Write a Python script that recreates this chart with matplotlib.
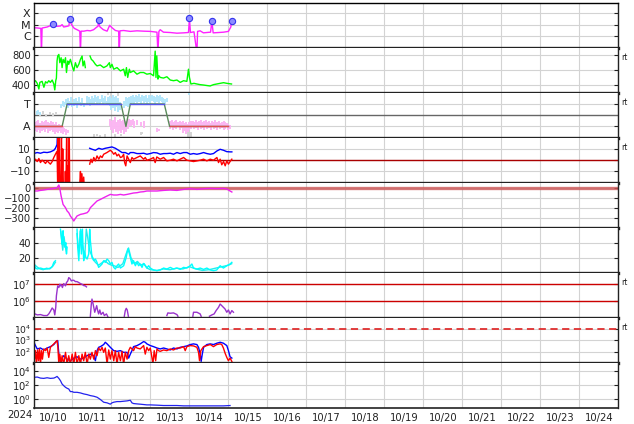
#!/usr/bin/env python3
"""Space weather stack plot, 2024-10-10 .. 2024-10-25."""

import numpy as np
import matplotlib

matplotlib.use("Agg")
import matplotlib.pyplot as plt
from matplotlib.ticker import FixedLocator, NullLocator

nan = np.nan

# all times in hours since 2024-10-10 00:00 UT
day_labels = ["10/%d" % d for d in range(10, 25)]

# GOES X-ray flux (log10)
xray_h = [0, 2, 4.5, 4.9, 5.3, 6.4, 8.4, 10.4, 11.9, 12.5, 14.5, 16.6, 17.6, 18.6,
          20.7, 21.8, 22.3, 23.1, 24.1, 25.1, 26.8, 28.5, 28.9, 29.3, 31, 33, 35,
          37, 39, 39.7, 40.1, 40.6, 41, 43, 45.3, 46.9, 48.3, 50.4, 52.4, 52.8, 53.2,
          55.5, 59.6, 63.7, 67.8, 71.9, 76, 76.6, 77.2, 78, 80, 84.2, 88.3, 92.4,
          95.4, 96.0, 96.6, 98.8, 100.6, 101, 102.6, 104.6, 106.7, 109.0, 109.8,
          110.6, 114, 117, 120, 121.5, 121.9]
xray_log = [-5.27, -5.29, -5.33, -7.5, -5.30, -5.27, -5.21, -5.09, -4.91, -5.05,
            -5.15, -5.12, -5.0, -5.21, -5.15, -5.1, -4.52, -4.9, -5.15, -5.33, -5.45,
            -5.58, -7.5, -5.58, -5.58, -5.52, -5.55, -5.45, -5.21, -5.15, -4.61, -5.1,
            -5.21, -5.45, -5.58, -5.06, -5.27, -5.52, -5.58, -7.5, -5.55, -5.52, -5.6,
            -5.55, -5.58, -5.6, -5.67, -7.5, -5.6, -5.45, -5.67, -5.7, -5.76, -5.73,
            -5.7, -4.45, -5.7, -5.64, -7.5, -5.6, -5.55, -5.73, -5.7, -5.67, -4.70,
            -5.73, -5.7, -5.67, -5.6, -5.2, -4.70]
flare_h = [11.9, 22.3, 40.1, 96.0, 109.8, 121.9]
flare_log = [-4.91, -4.52, -4.61, -4.45, -4.70, -4.70]

# solar wind speed (km/s)
speed_h = [0, 1.2, 2.3, 3.3, 3.9, 5.3, 6.4, 7.4, 8.4, 9.4, 10.4, 11.5, 12.5, 13.1,
           13.7, 14.1, 14.5, 14.9, 15.6, 16.2, 17, 17.6, 18.2, 19.0, 19.7, 20.3, 21.1,
           21.7, 22.7, 23.8, 24.8, 25.8, 26.8, 27.9, 28.9, 29.9, 30.5, 31.3, 31.9, 32.5,
           34.8, 35.6, 36.7, 38.1, 39.1, 41.1, 43.2, 45.2, 46.7, 47.3, 48.3, 49.4, 51.4,
           53.5, 55.5, 56.5, 57.2, 58.0, 59.0, 59.6, 61.6, 63.7, 65.7, 67.8, 69.8, 71.9,
           73.9, 74.9, 75.4, 75.9, 76.6, 77.2, 78.0, 80.0, 82.1, 84.2, 86.2, 88.3, 90.3,
           92.4, 94.4, 95.4, 96.0, 96.9, 98.8, 100.6, 102.6, 104.6, 106.7, 108.7, 110.8,
           112.8, 114.9, 117.0, 119.0, 121.9]
speed = [431, 454, 418, 341, 431, 445, 364, 440, 422, 454, 431, 463, 409, 328, 454,
         490, 723, 791, 813, 700, 768, 633, 746, 700, 768, 566, 723, 678, 746, 656,
         588, 700, 633, 678, 746, 791, 656, 723, 633, nan, 791, 746, 723, 678, 656,
         669, 633, 656, 700, 633, 678, 611, 633, 588, 611, 521, 633, 499, 611, 566,
         588, 543, 566, 566, 543, 552, 521, 858, 499, 794, 476, 521, 499, 490, 508,
         463, 454, 463, 431, 454, 445, 611, 499, 409, 418, 409, 400, 395, 388, 382,
         400, 409, 418, 427, 418, 409]

# IMF sector (T = +1, A = -1)
sector_h = [0, 17.6, 20.7, 53.9, 56.9, 59.6, 80.5, 83.8, 120]
sector = [-1, -1, 1, 1, -1, 1, 1, -1, -1]
toward_h = [2, 3, 4, 17, 18, 19, 20, 21, 22, 23, 24, 25, 26, 27, 28, 29, 30, 31, 33,
            34, 35, 36, 37, 38, 39, 40, 41, 42, 43, 44, 45, 46, 47, 48, 49, 50, 51, 52,
            53, 56, 57, 58, 59, 60, 61, 62, 63, 64, 65, 66, 67, 68, 69, 70, 71, 72, 73,
            74, 75, 76, 77, 78, 79, 80, 81, 82, 96]
toward_lo = [0.0, 0.1, 0.0, 0.6, 0.8, 0.7, 0.9, 0.6, 0.8, 0.9, 0.7, 0.8, 1.0, 0.6,
             0.9, 0.8, 1.0, 0.7, 0.9, 1.1, 0.8, 1.0, 0.9, 1.2, 1.0, 1.1, 0.9, 1.2, 1.0,
             1.1, 0.9, 1.0, 0.8, 0.5, 0.6, 0.4, 0.7, 0.3, 0.5, 0.6, 0.8, 0.7, 0.9, 1.0,
             1.1, 1.0, 1.2, 1.1, 1.2, 1.0, 1.3, 1.1, 1.2, 1.0, 1.2, 1.1, 1.3, 1.2, 1.0,
             1.2, 1.1, 1.3, 1.2, 1.1, 1.0, 1.2, 1.8]
toward_hi = [0.4, 0.5, 0.3, 1.0, 1.3, 1.2, 1.4, 1.5, 1.3, 1.6, 1.2, 1.4, 1.5, 1.3,
             1.6, 1.2, 1.5, 1.1, 1.7, 1.6, 1.4, 1.7, 1.5, 1.8, 1.6, 1.7, 1.4, 1.8, 1.5,
             1.7, 1.3, 1.6, 1.7, 1.5, 1.8, 1.6, 1.7, 1.5, 1.2, 1.3, 1.6, 1.5, 1.6, 1.7,
             1.8, 1.6, 1.8, 1.7, 1.9, 1.6, 1.8, 1.7, 1.8, 1.5, 1.8, 1.7, 1.8, 1.7, 1.6,
             1.8, 1.7, 1.8, 1.6, 1.5, 1.4, 1.5, 1.95]
away_h = [0, 1, 2, 3, 4, 5, 6, 7, 8, 9, 10, 11, 12, 13, 14, 15, 16, 17, 18, 19, 20,
          21, 47, 48, 49, 50, 51, 52, 53, 54, 55, 56, 57, 58, 59, 60, 61, 62, 64, 66,
          68, 76, 77, 84, 85, 86, 87, 88, 89, 90, 91, 92, 93, 94, 95, 96, 97, 98, 99,
          100, 101, 102, 103, 104, 105, 106, 107, 108, 109, 110, 111, 112, 113, 114,
          115, 116, 117, 118, 119, 120, 121]
away_lo = [-1.2, -1.4, -1.5, -1.3, -1.6, -1.4, -1.3, -1.5, -1.2, -1.6, -1.4, -1.3,
           -1.5, -1.7, -1.5, -1.6, -1.4, -1.6, -1.7, -1.5, -1.8, -1.6, -1.0, -1.3,
           -1.6, -1.2, -1.5, -1.7, -1.4, -1.6, -1.3, -1.7, -1.5, -1.2, -1.0, -1.0,
           -0.9, -1.1, -0.9, -1.0, -1.1, -1.5, -1.4, -1.2, -1.0, -1.3, -1.1, -1.2,
           -1.0, -1.3, -1.1, -1.6, -1.4, -1.7, -1.5, -1.3, -1.2, -1.0, -1.2, -1.1,
           -1.3, -1.0, -1.2, -1.1, -1.3, -1.0, -1.2, -1.1, -1.3, -1.0, -1.2, -1.1,
           -1.3, -1.0, -1.2, -1.1, -1.3, -1.2, -1.0, -1.3, -1.2]
away_hi = [-0.5, -0.6, -0.5, -0.4, -0.7, -0.5, -0.6, -0.5, -0.4, -0.6, -0.7, -0.5,
           -0.6, -0.8, -0.6, -0.9, -0.8, -0.9, -1.0, -1.1, -1.2, -1.3, -0.3, -0.5,
           -0.4, -0.2, -0.6, -0.4, -0.3, -0.5, -0.4, -0.6, -0.5, -0.4, -0.3, -0.4,
           -0.3, -0.5, -0.4, -0.6, -0.5, -1.1, -1.2, -0.5, -0.4, -0.6, -0.5, -0.4,
           -0.6, -0.5, -0.6, -0.5, -0.7, -0.6, -0.8, -0.6, -0.5, -0.5, -0.6, -0.4,
           -0.6, -0.5, -0.4, -0.6, -0.5, -0.4, -0.6, -0.5, -0.7, -0.5, -0.6, -0.4,
           -0.6, -0.5, -0.7, -0.6, -0.5, -0.6, -0.7, -0.8, -0.9]
other_h = [0, 2, 4, 6, 8, 10, 12, 14, 37, 39, 41, 44, 46, 48, 50, 52, 54, 66, 67,
           95, 96, 97]
other_lo = [-0.2, 0.0, -0.1, 0.1, -0.2, 0.0, -0.1, 0.1, -1.9, -1.85, -1.9, -1.9,
            1.8, 1.7, -1.9, 1.75, -1.85, -1.8, -1.7, -1.9, -1.8, -1.9]
other_hi = [0.3, 0.4, 0.2, 0.4, 0.1, 0.3, 0.2, 0.3, -1.7, -1.7, -1.75, -1.7, 2.0,
            2.0, -1.7, 2.0, -1.65, -1.5, -1.5, -1.3, -1.4, -1.5]

# IMF Bt and Bz (nT)
bt_h = [0, 2.3, 4.3, 6.3, 8.4, 10.4, 12.5, 13.5, 14.5, 14.9, 15.6, 16.2, 17, 17.6,
        18.5, 19.5, 20.5, 21.5, 22.3, 22.6, 34.6, 36.1, 38.1, 40.2, 42.2, 44.2, 46.3,
        48.3, 50.4, 52.4, 54.5, 56.5, 58.6, 59.6, 61.6, 63.7, 65.7, 67.8, 69.8, 71.9,
        73.9, 76.0, 78.0, 80.1, 82.1, 84.2, 86.2, 88.3, 90.3, 92.4, 94.4, 96.5, 98.5,
        100.6, 102.6, 104.7, 106.7, 108.8, 110.8, 112.9, 114.9, 117.0, 119.0, 121.0,
        122.1]
bt = [5.9, 6.8, 6.2, 7.1, 6.8, 7.4, 8.8, 10.6, 14, 30, 26, 30, 25, 20, 30, 28, 30,
      26, 30, nan, 10.6, 9.7, 8.8, 10.6, 9.7, 10.6, 11.2, 11.8, 10.6, 8.8, 6.8, 6.8,
      5.3, 6.8, 6.8, 5.9, 5.9, 6.2, 5.3, 5.9, 6.8, 6.5, 5.3, 5.9, 5.9, 6.2, 5.3, 6.8,
      5.9, 6.8, 6.8, 5.3, 5.9, 5.3, 5.9, 6.8, 5.9, 5.3, 5.9, 8.2, 9.7, 8.8, 7.6, 7.4,
      7.4]
bz_h = [0, 1.2, 2.3, 3.3, 4.3, 5.3, 6.3, 7.4, 8.4, 9.4, 10.4, 11.5, 12.5, 13.5, 14.5,
        14.9, 15.2, 15.5, 15.8, 16.1, 16.5, 16.8, 17.2, 17.6, 18.0, 18.4, 18.8, 19.2,
        19.6, 20.0, 20.4, 20.8, 21.2, 21.6, 22.0, 22.3, 22.5, 28.5, 28.9, 29.3, 29.8,
        30.3, 30.9, 31.3, 31.6, 34.6, 35.4, 36.1, 37.1, 38.1, 39.1, 40.2, 41.2, 42.2,
        43.2, 45.2, 47.3, 48.3, 49.4, 50.4, 51.4, 52.4, 53.5, 54.5, 55.5, 56.1, 56.8,
        57.6, 58.6, 59.6, 60.6, 61.6, 63.7, 65.7, 67.8, 68.8, 69.8, 71.9, 73.9, 74.9,
        75.9, 78.0, 80.1, 82.1, 84.2, 86.2, 88.3, 90.3, 92.4, 94.4, 96.5, 98.5, 100.6,
        102.6, 104.7, 106.7, 108.8, 110.8, 112.9, 113.9, 114.9, 115.9, 117.0, 118.0,
        119.0, 120.0, 121.0, 122.1]
bz = [-0.6, 0.9, -1.2, 1.5, -2.1, 0, -1.2, -2.9, -0.6, -2.1, -3.5, -1.2, 2.4, 5.3, 8,
      -25, 25, -25, 20, -25, -15, -25, 25, -25, 10, -25, -20, -25, -10, -25, 25, -25,
      -5, -25, 25, -25, nan, -20, -10, -25, -12, -25, -15, -25, nan, -3.5, 0.9, -2.1,
      2.4, -0.6, 3.8, 0.9, 3.8, 2.4, 5.3, 6.8, 8.8, 7.6, 5.3, 6.8, 3.8, 5.3, 2.4, 2.9,
      5.3, -2.1, -5, 3.8, 0.9, -2.1, 2.4, 0.9, 2.4, 3.8, 0.9, 2.4, 0, 0.9, 2.4, -2.1,
      2.9, 0.9, 2.4, -0.6, 0, 0.9, -0.6, 0.9, 2.4, 0, -0.6, -1.2, -0.6, 0, 0.9, -0.6,
      0.9, 0, 2.4, -2.1, 0.9, -4.1, -1.2, -5, -0.6, -3.5, -1.2, 0.9]

# Dst index (nT)
dst_h = [0, 2.3, 4.3, 6.4, 8.4, 10.4, 12.5, 14.5, 15.6, 16.2, 17.0, 18.2, 19.7, 20.7,
         21.7, 22.7, 23.8, 24.8, 25.8, 26.8, 28.9, 30.9, 33.0, 34.0, 35.0, 37.0, 39.1,
         41.2, 43.2, 45.3, 47.3, 49.4, 51.4, 53.5, 55.5, 57.6, 59.6, 61.6, 63.7, 65.7,
         67.8, 69.8, 71.9, 76.0, 80.1, 84.2, 88.3, 92.4, 96.5, 100.6, 104.7, 108.8,
         112.9, 117.0, 119.0, 121.0, 122.1]
dst = [-33, -33, -27, -23, -17, -13, -7, 0, 27, -7, -83, -167, -200, -233, -250,
       -283, -307, -333, -307, -283, -267, -260, -250, -233, -200, -167, -133, -117,
       -100, -83, -67, -73, -73, -67, -73, -67, -60, -53, -50, -43, -40, -33, -33,
       -33, -27, -23, -27, -17, -10, -17, -10, -7, -10, -7, -13, -33, -43]

# solar wind density (/cc), two sources
dens_h = [0, 1.2, 2.3, 4.3, 6.3, 8.4, 10.4, 11.5, 12.5, 13.5, 14.0, 16.6, 17.2, 17.6,
          18.2, 18.6, 19.3, 19.9, 20.3, 20.7, 21.0, 26.8, 27.2, 27.9, 28.5, 28.9, 29.5,
          30.1, 30.5, 30.9, 31.5, 32.2, 33, 34, 34.6, 35, 36, 37.1, 38.1, 39.1, 40.1,
          41.2, 42.2, 43.2, 44.2, 45.3, 46.3, 47.3, 48.3, 49.4, 50.4, 51.4, 52.4, 53.5,
          55.5, 57.1, 58, 58.8, 59.6, 60.6, 61.6, 62.7, 63.7, 64.7, 65.7, 66.8, 67.8,
          68.8, 69.8, 70.9, 71.9, 73.9, 76, 78, 80.1, 82.1, 84.2, 86.2, 88.3, 90.3,
          92.4, 94.4, 96.5, 97.5, 98.5, 100.6, 102.6, 104.7, 106.7, 108.8, 110.8,
          112.8, 114.9, 116.9, 119, 121, 122.1]
dens = [13.8, 6.2, 4.9, 6.2, 4.9, 4.9, 6.2, 8, 13.8, 16, nan, 58, 47, 38, 56, 43, 34,
        40, 25, 34, nan, 58, 34, 16, 43, 56, 25, 58, 34, 16, 27, 20.4, 18.2, 25, 58,
        43, 20.4, 16, 18.2, 13.8, 7.1, 9.3, 11.6, 16, 13.8, 18.2, 16, 11.6, 13.8, 7.1,
        4.9, 9.3, 11.6, 6.2, 9.3, 20.4, 31.6, 27, 20.4, 11.6, 16, 9.3, 13.8, 9.3, 11.6,
        7.1, 12.4, 9.3, 6.2, 9.3, 6.2, 3.6, 2.7, 3.6, 6.2, 4.9, 7.1, 4.9, 6.2, 4.4, 7.1,
        6.2, 9.3, 11.6, 6.2, 4.9, 6.2, 4.4, 6.2, 3.6, 2.7, 3.6, 9.3, 6.2, 9.3, 11.6,
        13.8]
dens2_h = [0, 2, 4, 6, 8, 10, 12, 13.5, 14, 16.8, 17.4, 18.0, 18.8, 19.5, 20.2, 20.6,
           26.8, 27.4, 28.2, 29.0, 29.8, 30.5, 31.5, 32.5, 33.5, 34.5, 36, 38, 40, 42,
           44, 46, 48, 50, 52, 55, 57, 58.5, 60, 62, 64, 66, 68, 70, 72, 76, 80, 84,
           88, 92, 96, 100, 104, 108, 112, 116, 120, 122]
dens2 = [12, 8, 5, 4, 6, 5, 9, 14, nan, 55, 42, 30, 48, 36, 28, nan, 52, 38, 30, 58,
         40, 33, 20, 58, 45, 30, 22, 14, 10, 13, 16, 12, 10, 9, 7, 12, 25, 33, 20, 12,
         15, 10, 12, 6, 4, 3, 5, 4, 6, 5, 8, 5, 3, 4, 6, 8, 10, 12]

# >10 MeV proton flux (log10)
prot_h = [0, 2.3, 4.3, 6.3, 8.4, 9.4, 10.4, 11.5, 12.5, 13.1, 13.7, 14.1, 14.5, 14.9,
          15.6, 16.2, 16.6, 17.2, 17.8, 18.6, 19.7, 20.3, 21.1, 21.7, 22.3, 22.7, 23.3,
          23.9, 24.8, 25.8, 26.8, 27.9, 28.9, 29.9, 30.9, 31.9, 32.6, 33.5, 35, 35.6,
          36.0, 36.7, 37.1, 37.7, 38.3, 38.9, 39.5, 40.1, 40.8, 41.6, 42.8, 43.6, 44.9,
          45.7, 50, 55.9, 56.5, 57.1, 57.7, 58.4, 70, 82.1, 82.7, 84.2, 86.2, 88.3,
          88.9, 95, 98.1, 98.5, 100.6, 102.6, 103.2, 106, 108.3, 109.8, 111.2, 112.4,
          113.9, 114.9, 115.9, 116.9, 117.9, 119.0, 120.0, 121.0, 122.1, 123.1]
prot_log = [5.24, 5.14, 5.16, 5.1, 5.1, 5.2, 5.36, 5.56, 5.44, 5.14, 5.6, 6.3, 6.6,
            6.9, 6.8, 7.0, 6.9, 6.96, 6.8, 7.04, 6.9, 7.1, 7.2, 7.4, 7.36, 7.3, 7.2,
            7.24, 7.24, 7.16, 7.16, 7.1, 7.04, 7.0, 6.92, 6.9, 6.84, nan, 5.06, 5.8,
            6.1, 5.8, 5.6, 5.3, 5.5, 5.7, 5.4, 5.2, 5.44, 5.16, 5.3, 5.1, 5.2, 5.04,
            nan, 5.06, 5.4, 5.54, 5.44, 5.06, nan, 5.1, 5.26, 5.24, 5.26, 5.16, 5.06,
            nan, 5.06, 5.3, 5.3, 5.2, 5.06, nan, 5.06, 5.14, 5.2, 5.4, 5.6, 5.8, 5.7,
            5.6, 5.5, 5.3, 5.44, 5.2, 5.4, 5.3]

# >2 MeV electron flux (log10), two satellites
elec_b_h = [0, 1.2, 2.3, 4.3, 6.3, 8.4, 10.4, 12.5, 14.1, 14.9, 15.6, 16.2, 16.6,
            17.6, 18.6, 20.7, 22.7, 24.8, 26.8, 28.9, 30.9, 32.9, 35.0, 37.0, 38.1,
            39.1, 40.1, 41.2, 43.2, 44.2, 45.3, 46.3, 47.3, 48.3, 49.4, 51.4, 53.5,
            55.5, 57.6, 58.6, 59.6, 60.6, 61.6, 63.7, 65.7, 67.8, 68.8, 69.8, 71.9,
            73.9, 76.0, 78.0, 80.1, 82.1, 84.2, 86.2, 88.3, 90.3, 92.4, 94.4, 96.5,
            98.5, 100.6, 101.6, 102.6, 103.2, 103.9, 104.7, 106.7, 108.8, 110.8, 112.9,
            114.9, 116.9, 119.0, 120.0, 121.0, 122.1]
elec_b = [2.91, 2.53, 2.24, 2.32, 2.15, 2.32, 2.44, 2.62, 2.91, 2.97, 1.79, 1.35,
          1.15, 1.44, 1.65, 1.35, 1.21, 1.44, 1.56, 1.35, 1.44, 1.65, 1.79, 1.65,
          1.21, 2.09, 2.38, 2.44, 2.62, 2.82, 2.68, 2.53, 2.38, 2.24, 2.09, 2.03,
          2.09, 1.94, 1.94, 1.44, 1.79, 2.09, 2.44, 2.53, 2.68, 2.88, 2.82, 2.68,
          2.53, 2.44, 2.32, 2.24, 2.32, 2.24, 2.15, 2.32, 2.24, 2.38, 2.44, 2.5,
          2.62, 2.68, 2.62, 2.38, 1.79, 1.15, 1.79, 2.38, 2.62, 2.68, 2.62, 2.74,
          2.82, 2.74, 2.53, 2.09, 1.56, 1.44]
elec_r_h = [0, 0.6, 1.2, 1.8, 2.5, 3.1, 3.7, 4.3, 4.9, 5.5, 6.3, 7.4, 8.4, 9.4, 10.4,
            11.5, 12.5, 13.5, 14.5, 15, 15.6, 16.2, 17, 17.6, 18.6, 19.7, 20.7, 21.7,
            22.7, 23.8, 24.8, 25.8, 26.8, 27.9, 28.9, 29.9, 30.9, 31.9, 33, 34, 35, 36,
            37.1, 38.1, 39.1, 40.1, 41.2, 42.2, 43.2, 44.2, 45.3, 46.3, 47.3, 48.3,
            49.4, 50.4, 51.4, 52.4, 53.5, 54.5, 55.5, 56.5, 57.6, 58.6, 59.6, 60.6,
            61.6, 62.7, 63.7, 65.7, 67.8, 68.8, 69.8, 70.9, 71.9, 72.9, 73.5, 74.3,
            75.2, 76, 77, 78, 80.1, 82.1, 84.2, 86.2, 88.3, 90.3, 92.4, 93.4, 94.4,
            96.5, 98.5, 100.6, 101.6, 102.2, 103, 104.7, 106.7, 108.8, 110.8, 112.8,
            114.9, 115.9, 116.9, 118, 119, 120, 121, 122.1]
elec_r = [2.24, 1.35, 2.09, 0.9, 2.15, 1.21, 2.24, 0.9, 2.09, 1.35, 2.24, 2.09, 2.32,
          1.5, 2.38, 2.53, 2.68, 2.82, 2.97, 2.38, 0.9, 1.79, 0.9, 1.65, 0.9, 1.94,
          0.9, 1.65, 0.9, 1.79, 0.9, 1.94, 0.9, 1.65, 0.9, 1.79, 1.21, 1.94, 0.9,
          1.79, 1.35, 1.94, 1.35, 2.09, 1.65, 2.32, 2.09, 2.38, 1.94, 2.32, 0.9, 2.15,
          1.35, 2.09, 1.21, 2.09, 0.9, 1.94, 1.21, 2.03, 0.9, 1.94, 1.35, 2.09, 2.38,
          2.24, 2.09, 2.44, 2.32, 2.24, 2.53, 1.79, 2.38, 2.09, 2.32, 1.5, 0.9, 2.09,
          1.21, 2.24, 2.09, 2.03, 2.15, 2.09, 2.24, 2.15, 2.32, 2.32, 2.44, 2.09, 2.44,
          2.53, 2.5, 2.38, 1.94, 1.21, 2.09, 2.44, 2.53, 2.62, 2.44, 2.62, 2.68, 2.62,
          2.32, 1.85, 1.5, 1.21, 1.44, 1.15]

# neutron / bottom channel (log10)
bot_h = [0, 2.3, 4.3, 6.3, 8.4, 10.4, 12.5, 13.5, 14.5, 15.6, 16.6, 17.6, 18.6, 19.7,
         20.7, 21.7, 22.3, 22.7, 23.8, 24.8, 26.8, 28.9, 30.9, 33.0, 35.0, 37.1, 39.1,
         40.1, 41.2, 42.2, 43.2, 45.3, 47.3, 48.3, 49.4, 51.4, 53.5, 55.5, 57.6, 59.6,
         60.6, 61.6, 63.7, 65.7, 67.8, 69.8, 71.9, 76.0, 80.1, 84.2, 88.3, 92.4, 96.5,
         100.6, 104.7, 108.8, 112.8, 116.9, 121.0]
bot_log = [3.06, 3.11, 2.96, 2.92, 3.01, 2.92, 2.96, 3.06, 3.2, 2.92, 2.59, 2.12,
           1.88, 1.65, 1.51, 1.41, 1.18, 1.04, 1.04, 0.94, 0.94, 0.85, 0.71, 0.61,
           0.47, 0.38, 0.24, 0.09, -0.09, -0.28, -0.47, -0.56, -0.75, -0.56, -0.47,
           -0.38, -0.38, -0.33, -0.28, -0.19, -0.56, -0.66, -0.71, -0.75, -0.8, -0.85,
           -0.85, -0.89, -0.94, -0.94, -0.94, -0.99, -0.99, -0.99, -0.99, -0.99,
           -0.99, -0.99, -0.94]

W, H = 634, 424
TXT = "#222222"
GRID = "#d3d3d3"


def arr(v):
    return np.array(v, dtype=float)


def make_axes(fig):
    left, right = 33.5, 618.3
    top0, ph = 2.7, 45.0
    axes = []
    for i in range(9):
        y0 = 1 - (top0 + ph * (i + 1)) / H
        ax = fig.add_axes([left / W, y0, (right - left) / W, ph / H])
        ax.set_xlim(0, 360)
        ax.xaxis.set_major_locator(FixedLocator(np.arange(0, 361, 24)))
        ax.xaxis.set_minor_locator(NullLocator())
        ax.set_axisbelow(True)
        ax.grid(True, which="major", color=GRID, lw=0.8)
        ax.tick_params(axis="y", which="both", direction="in", length=3,
                       labelsize=7.2, colors=TXT, right=True, pad=2)
        ax.tick_params(axis="x", which="both", length=0, labelbottom=False)
        for s in ("left", "right"):
            ax.spines[s].set_color(TXT)
            ax.spines[s].set_linewidth(1.0)
        ax.spines["top"].set_linewidth(1.0 if i == 0 else 0)
        ax.spines["bottom"].set_color(TXT)
        ax.spines["bottom"].set_linewidth(2.4 if i < 8 else 1.2)
        axes.append(ax)
    return axes


def log_axis(ax, lo, hi, ticks):
    ax.set_yscale("log")
    ax.set_ylim(10.0 ** lo, 10.0 ** hi)
    ax.yaxis.set_major_locator(FixedLocator([10.0 ** t for t in ticks]))
    ax.yaxis.set_minor_locator(NullLocator())


def plot_all(image_name="out.png"):
    fig = plt.figure(figsize=(W / 100, H / 100), dpi=100)
    ax1, ax2, ax3, ax4, ax5, ax6, ax7, ax8, ax9 = make_axes(fig)

    # X-ray
    log_axis(ax1, -7.05, -3.05, [-6, -5, -4])
    ax1.set_yticklabels(["C", "M", "X"])
    ax1.tick_params(axis="y", labelsize=8)
    ax1.plot(arr(xray_h), 10 ** arr(xray_log), color="#ff22ff", lw=1.0)
    ax1.plot(arr(flare_h), 10 ** arr(flare_log), "o", ms=4.5, mfc="#8c8cff",
             mec="#3333ee", mew=0.8)

    # speed
    ax2.set_ylim(290, 905)
    ax2.set_yticks([400, 600, 800])
    ax2.plot(arr(speed_h), arr(speed), color="#00ff00", lw=1.0)

    # sector
    ax3.set_ylim(-2, 2)
    ax3.set_yticks([-1, 1])
    ax3.set_yticklabels(["A", "T"])
    ax3.tick_params(axis="y", labelsize=8)
    ax3.axhline(0, color="#666666", lw=1.0)
    ax3.vlines(other_h, other_lo, other_hi, color="#d4d4d4", lw=1.4)
    ax3.vlines(toward_h, toward_lo, toward_hi, color="#b2e6fb", lw=1.4)
    ax3.vlines(away_h, away_lo, away_hi, color="#fbb6f2", lw=1.4)
    sh, sv = arr(sector_h), arr(sector)
    ax3.plot(sh, sv, color="#5a8a5a", lw=1.0)
    ax3.plot(np.where(sv > 0, sh, nan), np.where(sv > 0, sv, nan), color="#5555ee",
             lw=1.0)
    ax3.plot(np.where(sv < 0, sh, nan), np.where(sv < 0, sv, nan), color="#e05050",
             lw=1.0)

    # IMF
    ax4.set_ylim(-20, 20)
    ax4.set_yticks([-10, 0, 10])
    ax4.axhline(0, color="#aa0000", lw=1.0)
    ax4.plot(arr(bt_h), arr(bt), color="#0000ff", lw=1.0)
    ax4.plot(arr(bz_h), arr(bz), color="#ff0000", lw=1.0)

    # Dst
    ax5.set_ylim(-400, 50)
    ax5.set_yticks([-300, -200, -100, 0])
    ax5.axhline(0, color="#cc5555", lw=2.4, alpha=0.8)
    ax5.plot(arr(dst_h), arr(dst), color="#ee22ee", lw=1.0)

    # density
    ax6.set_ylim(0, 60)
    ax6.set_yticks([20, 40])
    ax6.plot(arr(dens2_h), arr(dens2), color="#22eeee", lw=1.0)
    ax6.plot(arr(dens_h), arr(dens), color="#00ffff", lw=1.0)

    # protons
    log_axis(ax7, 4.97, 7.7, [6, 7])
    ax7.axhline(1e6, color="#cc0000", lw=1.0)
    ax7.axhline(1e7, color="#cc0000", lw=1.0)
    ax7.plot(arr(prot_h), 10 ** arr(prot_log), color="#9933cc", lw=1.0)

    # electrons
    log_axis(ax8, 1.04, 4.96, [2, 3, 4])
    ax8.tick_params(axis="y", labelsize=6.6, pad=1.5)
    ax8.axhline(1e4, color="#e03030", lw=1.3, dashes=(4, 2.5))
    ax8.plot(arr(elec_b_h), 10 ** arr(elec_b), color="#0000ff", lw=1.0)
    ax8.plot(arr(elec_r_h), 10 ** arr(elec_r), color="#ff0000", lw=1.0)

    # bottom channel
    log_axis(ax9, -1.25, 5.15, [0, 2, 4])
    ax9.plot(arr(bot_h), 10 ** arr(bot_log), color="#2222ee", lw=0.9)

    ax9.set_xticks(np.arange(12, 360, 24), minor=True)
    ax9.set_xticklabels(day_labels, minor=True)
    ax9.tick_params(axis="x", which="minor", length=0, labelbottom=True,
                    labelsize=7.2, colors=TXT, pad=4)
    fig.text(20 / W, 1 - 415 / H, "2024", fontsize=7.2, color=TXT,
             ha="center", va="center")

    for i in (1, 2, 3, 6, 7):
        fig.text(621 / W, 1 - (12.7 + 45 * i) / H, "rt", fontsize=5.5,
                 color=TXT, ha="left", va="center")

    fig.savefig(image_name, dpi=100)
    return 0


if __name__ == "__main__":
    plot_all("out.png")
